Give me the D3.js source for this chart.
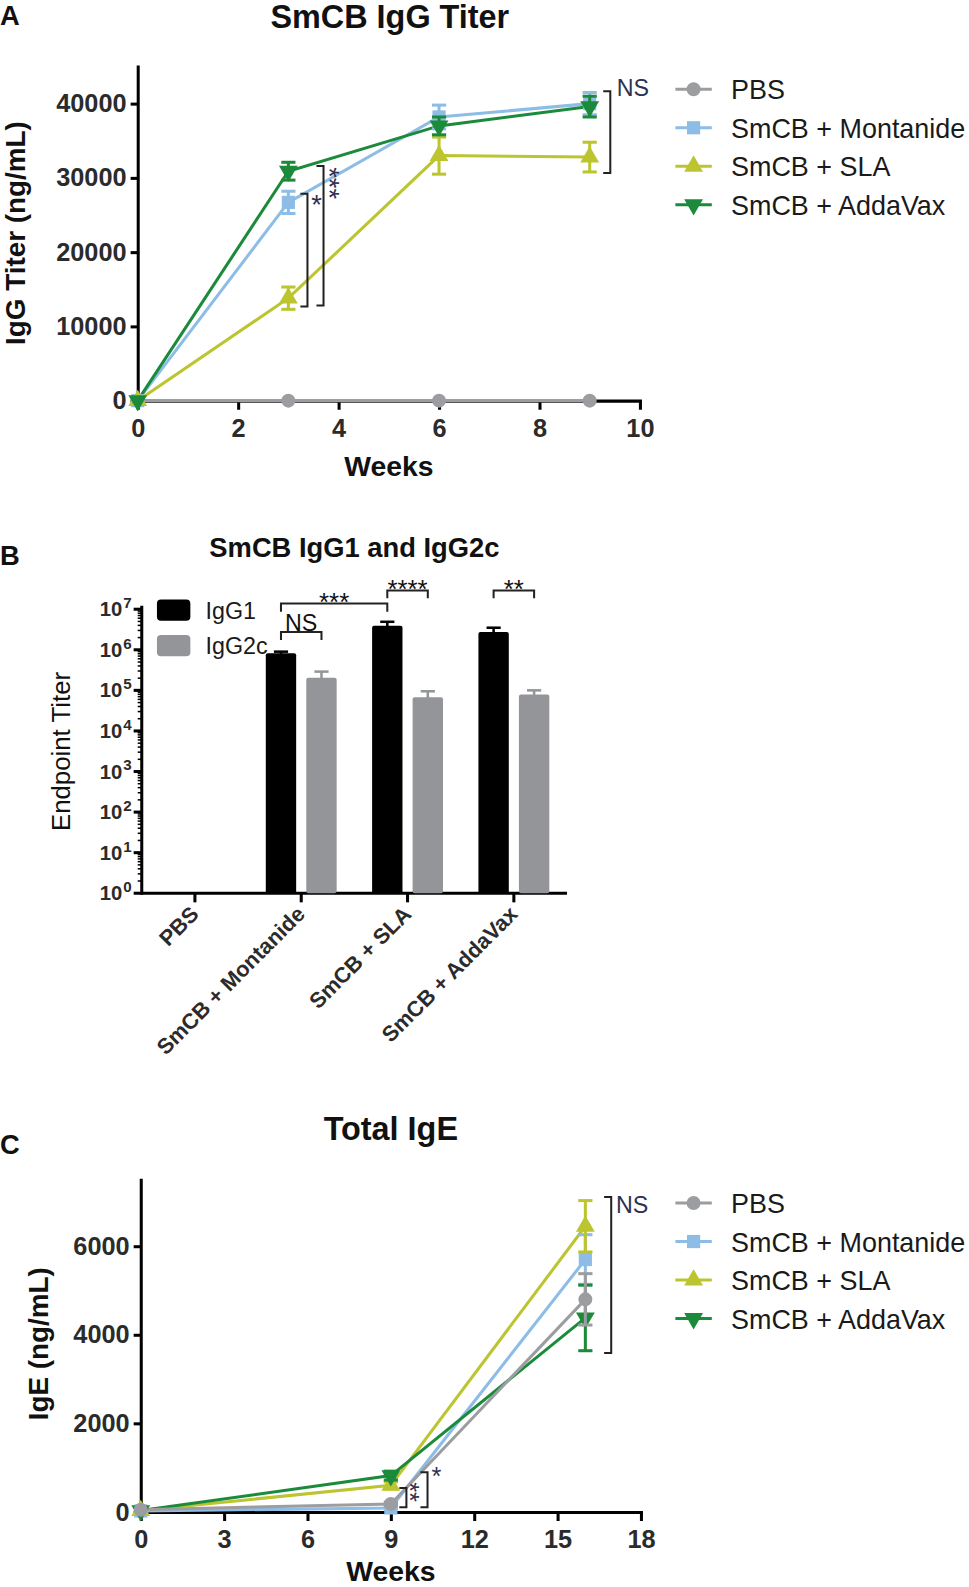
<!DOCTYPE html>
<html>
<head>
<meta charset="utf-8">
<script src="https://cdn.jsdelivr.net/npm/d3@7"></script>
<style>
  body { margin: 0; background: #fff; }
</style>
</head>
<body>
<svg id="fig" width="969" height="1587" viewBox="0 0 957 1567"></svg>
<script>
// ---- data ----
const groupNames = ["PBS", "SmCB + Montanide", "SmCB + SLA", "SmCB + AddaVax"];
const groupColors = ["#9c9da0", "#8dbde6", "#bcc530", "#1b8a3a"];

// A: IgG titer (ng/mL)
const weeksA = [0, 3, 6, 9];
const iggPBS = [0, 0, 0, 0];
const iggMont = [0, 26700, 38200, 40000];
const iggSLA = [0, 13800, 33000, 32800];
const iggAdda = [0, 30900, 37000, 39600];
const iggPBSErr = [0, 0, 0, 0];
const iggMontErr = [0, 1500, 1600, 1500];
const iggSLAErr = [0, 1500, 2500, 2000];
const iggAddaErr = [0, 1200, 1200, 1400];
const ticksAx = [0, 2, 4, 6, 8, 10];
const ticksAy = [0, 10000, 20000, 30000, 40000];

// B: endpoint titers
const isotypes = ["IgG1", "IgG2c"];
const isoColors = ["#000000", "#939598"];
const igg1Titer = [1, 820000, 3900000, 2750000];
const igg1Err = [0, 80000, 1000000, 750000];
const igg2cTiter = [1, 205000, 68000, 79000];
const igg2cErr = [0, 85000, 27000, 21000];
const logExps = [0, 1, 2, 3, 4, 5, 6, 7];

// C: total IgE (ng/mL)
const weeksC = [0, 9, 16];
const igePBS = [50, 180, 4800];
const igeMont = [20, 90, 5700];
const igeSLA = [30, 600, 6450];
const igeAdda = [30, 820, 4380];
const igePBSErr = [0, 40, 580];
const igeMontErr = [0, 20, 560];
const igeSLAErr = [0, 80, 580];
const igeAddaErr = [0, 100, 740];
const ticksCx = [0, 3, 6, 9, 12, 15, 18];
const ticksCy = [0, 2000, 4000, 6000];

// ---- drawing ----
const FONT = '"Liberation Sans", Arial, Helvetica, sans-serif';
const SIG = "#2e3150";
const svg = d3.select("#fig");

const symbolTypes = [d3.symbolCircle, d3.symbolSquare, d3.symbolTriangle, d3.symbolTriangle];
const symbolSizes = [150, 170, 150, 150];
const symbolRot = [0, 0, 0, 180];

function styleAxis(g) {
  g.select(".domain").attr("stroke", "#000").attr("stroke-width", 3).attr("stroke-linecap", "square");
  g.selectAll(".tick line").attr("stroke", "#000").attr("stroke-width", 3);
  g.selectAll(".tick text")
    .attr("font-family", FONT).attr("font-size", 25).attr("font-weight", "bold").attr("fill", "#2b2b2b");
}

function txt(x, y, s, size, weight, anchor, rotate) {
  const t = svg.append("text").text(s)
    .attr("font-family", FONT).attr("font-size", size).attr("font-weight", weight || "normal")
    .attr("text-anchor", anchor || "start").attr("fill", "#111");
  if (rotate) t.attr("transform", `translate(${x},${y}) rotate(${rotate})`);
  else t.attr("x", x).attr("y", y);
  return t;
}

function marker(g, type, cx, cy, color) {
  g.append("path")
    .attr("d", d3.symbol(symbolTypes[type], symbolSizes[type])())
    .attr("transform", `translate(${cx},${cy}) rotate(${symbolRot[type]})`)
    .attr("fill", color);
}

// significance label; several asterisks run downwards in a column
function sigLabel(g, cx, cy, label, size) {
  const t = g.append("text").text(label)
    .attr("font-family", FONT).attr("font-size", size).attr("fill", SIG);
  if (label.length > 1 && label[0] === "*") {
    t.attr("transform", `translate(${cx - 0.575 * size},${cy - 4}) rotate(90)`);
  } else if (label === "*") {
    t.attr("x", cx).attr("y", cy + 0.575 * size).attr("text-anchor", "middle");
  } else {
    t.attr("x", cx).attr("y", cy + 0.36 * size);
  }
}

function drawLinePanel(p) {
  const g = svg.append("g");
  const x = d3.scaleLinear().domain(p.xDomain).range(p.xRange);
  const y = d3.scaleLinear().domain(p.yDomain).range(p.yRange);

  g.append("g").attr("transform", `translate(0,${p.yRange[0]})`)
    .call(d3.axisBottom(x).tickValues(p.xTicks).tickSize(9).tickSizeOuter(0).tickPadding(9))
    .call(styleAxis);
  g.append("g").attr("transform", `translate(${p.xRange[0]},0)`)
    .call(d3.axisLeft(y).tickValues(p.yTicks).tickSize(7).tickSizeOuter(0).tickPadding(4).tickFormat(d3.format("d")))
    .call(styleAxis);

  const line = d3.line().x((d, i) => x(p.weeks[i])).y(d => y(d));
  p.order.forEach(k => {
    const s = p.series[k];
    g.append("path").datum(s.values).attr("d", line)
      .attr("fill", "none").attr("stroke", groupColors[k]).attr("stroke-width", 3);
  });
  p.order.forEach(k => {
    const s = p.series[k];
    s.values.forEach((v, i) => {
      const e = s.errs[i];
      const cx = x(p.weeks[i]);
      if (e > 0) {
        const eb = g.append("g").attr("stroke", groupColors[k]).attr("stroke-width", 3);
        eb.append("line").attr("x1", cx).attr("x2", cx).attr("y1", y(v - e)).attr("y2", y(v + e));
        [v - e, v + e].forEach(ev => eb.append("line")
          .attr("x1", cx - 7).attr("x2", cx + 7).attr("y1", y(ev)).attr("y2", y(ev)));
      }
      marker(g, k, cx, y(v), groupColors[k]);
    });
  });

  // significance brackets
  p.brackets.forEach(b => {
    const bx = x(b.x);
    g.append("path")
      .attr("d", `M${bx - 7},${y(b.y0)}H${bx}V${y(b.y1)}H${bx - 7}`)
      .attr("fill", "none").attr("stroke", "#222").attr("stroke-width", 2);
    sigLabel(g, x(b.lx), y(b.ly), b.label, b.size);
  });

  // legend
  p.series.forEach((s, k) => {
    const ly = p.legendY + k * 38;
    g.append("line").attr("x1", 667).attr("x2", 703).attr("y1", ly).attr("y2", ly)
      .attr("stroke", groupColors[k]).attr("stroke-width", 3);
    marker(g, k, 685, ly, groupColors[k]);
    g.append("text").attr("x", 722).attr("y", ly + 10).text(groupNames[k])
      .attr("font-family", FONT).attr("font-size", 26.6).attr("fill", "#1a1a1a");
  });
}

function seriesOf(vals, errs) {
  return vals.map((v, i) => ({ values: v, errs: errs[i] }));
}

// ---- Panel A ----
txt(0, 25, "A", 27, "bold");
txt(385, 27, "SmCB IgG Titer", 32, "bold", "middle");
drawLinePanel({
  xDomain: [0, 10], xRange: [136, 632],
  yDomain: [0, 45000], yRange: [395.5, 65.5],
  xTicks: ticksAx, yTicks: ticksAy,
  weeks: weeksA,
  series: seriesOf([iggPBS, iggMont, iggSLA, iggAdda], [iggPBSErr, iggMontErr, iggSLAErr, iggAddaErr]),
  order: [0, 1, 2, 3],
  legendY: 88,
  brackets: [
    { x: 3.38, y0: 27860, y1: 12670, label: "*", lx: 3.56, ly: 27300, size: 27 },
    { x: 3.70, y0: 31600, y1: 12800, label: "***", lx: 3.94, ly: 30900, size: 27 },
    { x: 9.41, y0: 41660, y1: 30650, label: "NS", lx: 9.54, ly: 42200, size: 23 }
  ]
});
txt(384, 470, "Weeks", 28, "bold", "middle");
txt(25, 230, "IgG Titer (ng/mL)", 27.5, "bold", "middle", -90);

// ---- Panel B ----
txt(0, 558, "B", 27, "bold");
txt(350, 550, "SmCB IgG1 and IgG2c", 27, "bold", "middle");
(function drawBars() {
  const g = svg.append("g");
  const y = d3.scaleLog().domain([1, 1e7]).range([882, 601.5]);
  const x0 = d3.scaleBand().domain(groupNames).range([140, 560]).padding(0);
  const bw = x0.bandwidth();
  const x1 = d3.scaleBand().domain(isotypes).range([bw / 2 - 35, bw / 2 + 35]).paddingInner(0.25);
  const titers = [igg1Titer, igg2cTiter];
  const errs = [igg1Err, igg2cErr];

  // y axis with log minor ticks
  const yAxis = g.append("g").attr("transform", "translate(140,0)");
  yAxis.append("line").attr("y1", y(1) + 1.5).attr("y2", 598).attr("stroke", "#000").attr("stroke-width", 3);
  logExps.slice(0, -1).forEach(e => {
    d3.range(2, 10).forEach(m => {
      yAxis.append("line").attr("x1", 0).attr("x2", -4)
        .attr("y1", y(m * Math.pow(10, e))).attr("y2", y(m * Math.pow(10, e)))
        .attr("stroke", "#000").attr("stroke-width", 1.5);
    });
  });
  logExps.forEach(e => {
    const yy = y(Math.pow(10, e));
    yAxis.append("line").attr("x1", 0).attr("x2", -8).attr("y1", yy).attr("y2", yy)
      .attr("stroke", "#000").attr("stroke-width", 3);
    const t = yAxis.append("text").attr("x", -10).attr("y", yy + 7)
      .attr("text-anchor", "end").attr("font-family", FONT).attr("font-weight", "bold")
      .attr("font-size", 20).attr("fill", "#2b2b2b");
    t.append("tspan").text("10");
    t.append("tspan").text(e).attr("font-size", 15).attr("dy", -8).attr("dx", 1);
  });

  // x axis
  const xAxis = g.append("g").attr("transform", `translate(0,${y(1)})`);
  xAxis.append("line").attr("x1", 140).attr("x2", 560).attr("stroke", "#000").attr("stroke-width", 3);
  groupNames.forEach(n => {
    const cx = x0(n) + bw / 2;
    xAxis.append("line").attr("x1", cx).attr("x2", cx).attr("y1", 0).attr("y2", 9)
      .attr("stroke", "#000").attr("stroke-width", 3);
    xAxis.append("text").text(n)
      .attr("transform", `translate(${cx + 5},22) rotate(-45)`)
      .attr("text-anchor", "end").attr("font-family", FONT).attr("font-weight", "bold")
      .attr("font-size", 21.5).attr("fill", "#2b2b2b");
  });

  // bars and error bars
  groupNames.forEach((n, gi) => {
    isotypes.forEach((iso, k) => {
      const v = titers[k][gi];
      if (v <= 1) return;
      const bx = x0(n) + x1(iso);
      g.append("rect").attr("x", bx).attr("width", x1.bandwidth())
        .attr("y", y(v)).attr("height", y(1) - y(v))
        .attr("rx", 2).attr("fill", isoColors[k]);
      const cx = bx + x1.bandwidth() / 2;
      const top = y(v + errs[k][gi]);
      g.append("line").attr("x1", cx).attr("x2", cx).attr("y1", y(v) + 2).attr("y2", top)
        .attr("stroke", isoColors[k]).attr("stroke-width", 2.5);
      g.append("line").attr("x1", cx - 7).attr("x2", cx + 7).attr("y1", top).attr("y2", top)
        .attr("stroke", isoColors[k]).attr("stroke-width", 2.5);
    });
  });

  // significance brackets (between bar centres), heights in decades
  const centre = (gi, k) => x0(groupNames[gi]) + x1(isotypes[k]) + x1.bandwidth() / 2;
  const sig = [
    { a: [1, 0], b: [1, 1], line: 6.44, tick: 6.24, label: "NS", size: 23 },
    { a: [1, 0], b: [2, 0], line: 7.14, tick: 6.94, label: "***", size: 25.5 },
    { a: [2, 0], b: [2, 1], line: 7.46, tick: 7.27, label: "****", size: 25.5 },
    { a: [3, 0], b: [3, 1], line: 7.46, tick: 7.27, label: "**", size: 25.5 }
  ];
  sig.forEach(s => {
    const xa = centre(s.a[0], s.a[1]), xb = centre(s.b[0], s.b[1]);
    const yl = y(Math.pow(10, s.line)), yt = y(Math.pow(10, s.tick));
    g.append("path").attr("d", `M${xa},${yt}V${yl}H${xb}V${yt}`)
      .attr("fill", "none").attr("stroke", "#222").attr("stroke-width", 2);
    const isNS = s.label === "NS";
    const cy = yl - (isNS ? 9.5 : 7);
    g.append("text").attr("x", (xa + xb) / 2).attr("y", cy + (isNS ? 0.36 : 0.575) * s.size)
      .attr("text-anchor", "middle").text(s.label)
      .attr("font-family", FONT).attr("font-size", s.size).attr("fill", "#111");
  });

  // legend
  isotypes.forEach((iso, k) => {
    const ly = 592 + k * 35;
    g.append("rect").attr("x", 155).attr("y", ly).attr("width", 33).attr("height", 21)
      .attr("rx", 4).attr("fill", isoColors[k]);
    g.append("text").attr("x", 203).attr("y", ly + 19).text(iso)
      .attr("font-family", FONT).attr("font-size", 23).attr("fill", "#1a1a1a");
  });
})();
txt(69, 742, "Endpoint Titer", 25.5, "normal", "middle", -90);

// ---- Panel C ----
txt(0, 1140, "C", 27, "bold");
txt(386, 1126, "Total IgE", 32, "bold", "middle");
drawLinePanel({
  xDomain: [0, 18], xRange: [139, 633],
  yDomain: [0, 7500], yRange: [1493, 1165],
  xTicks: ticksCx, yTicks: ticksCy,
  weeks: weeksC,
  series: seriesOf([igePBS, igeMont, igeSLA, igeAdda], [igePBSErr, igeMontErr, igeSLAErr, igeAddaErr]),
  order: [1, 2, 3, 0],
  legendY: 1188,
  brackets: [
    { x: 9.56, y0: 540, y1: 105, label: "**", lx: 9.88, ly: 580, size: 25 },
    { x: 10.32, y0: 896, y1: 105, label: "*", lx: 10.64, ly: 930, size: 25 },
    { x: 16.93, y0: 7110, y1: 3590, label: "NS", lx: 17.1, ly: 6940, size: 23 }
  ]
});
txt(386, 1561, "Weeks", 28, "bold", "middle");
txt(47, 1327, "IgE (ng/mL)", 27.5, "bold", "middle", -90);
</script>
</body>
</html>
